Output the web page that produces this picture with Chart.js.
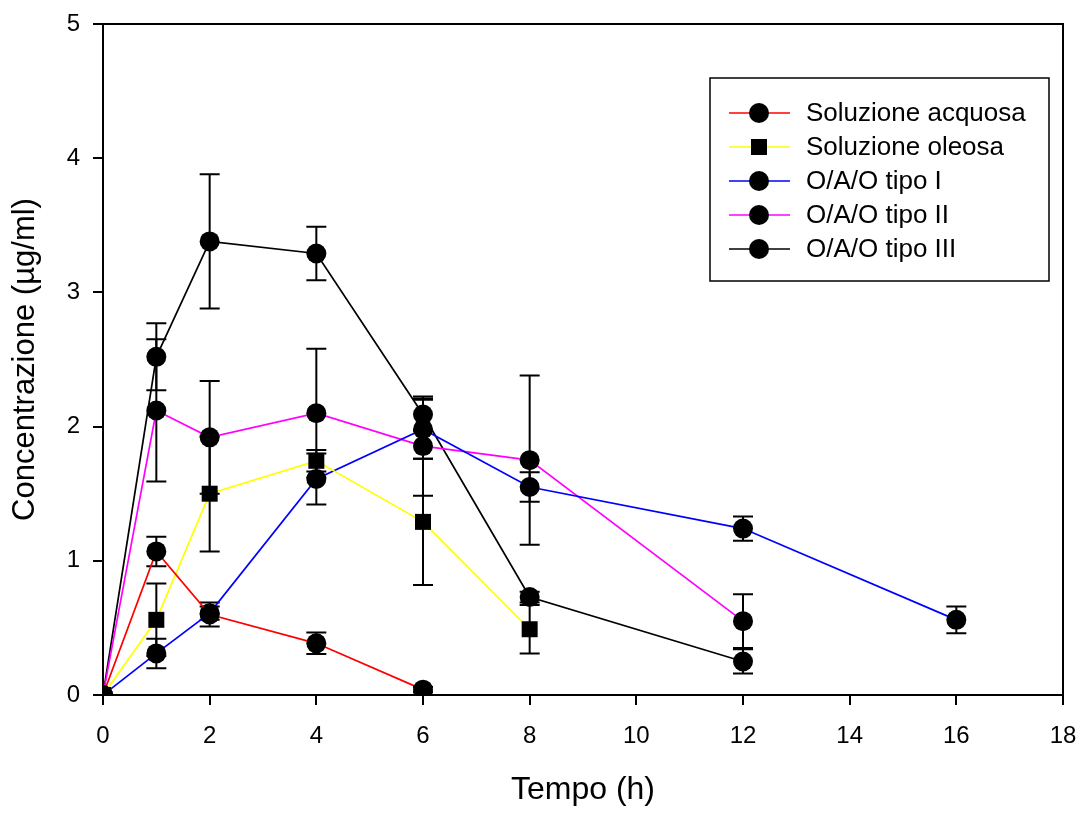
<!DOCTYPE html>
<html>
<head>
<meta charset="utf-8">
<script src="https://cdn.jsdelivr.net/npm/chart.js@4.4.0/dist/chart.umd.min.js"></script>
<style>
  html, body { margin: 0; padding: 0; background: #fff; }
  #wrap { width: 1086px; height: 813px; }
</style>
</head>
<body>
<div id="wrap"><canvas id="chart" width="1086" height="813"></canvas></div>
<script>
(function() {
  "use strict";

  // ── Data ──
  const timeAcquosa = [0, 1, 2, 4, 6];
  const acquosa     = [0, 1.07, 0.60, 0.385, 0.04];
  const acquosaErr  = [0, 0.11, 0.09, 0.08, 0.02];

  const timeOleosa = [0, 1, 2, 4, 6, 8];
  const oleosa     = [0, 0.56, 1.50, 1.745, 1.29, 0.49];
  const oleosaErr  = [0, 0.27, 0.43, 0.08, 0.47, 0.18];

  const timeTipoI = [0, 1, 2, 4, 6, 8, 12, 16];
  const tipoI     = [0, 0.31, 0.61, 1.61, 1.98, 1.55, 1.24, 0.56];
  const tipoIErr  = [0, 0.11, 0.05, 0.19, 0.22, 0.11, 0.09, 0.10];

  const timeTipoII = [0, 1, 2, 4, 6, 8, 12];
  const tipoII     = [0, 2.12, 1.92, 2.10, 1.855, 1.75, 0.55];
  const tipoIIErr  = [0, 0.53, 0.42, 0.48, 0.37, 0.63, 0.20];

  const timeTipoIII = [0, 1, 2, 4, 6, 8, 12];
  const tipoIII     = [0, 2.52, 3.38, 3.29, 2.09, 0.73, 0.25];
  const tipoIIIErr  = [0, 0.25, 0.50, 0.20, 0.12, 0.04, 0.09];

  const seriesLabels = ['Soluzione acquosa', 'Soluzione oleosa', 'O/A/O tipo I', 'O/A/O tipo II', 'O/A/O tipo III'];
  const seriesColors = ['#ff0000', '#ffff00', '#0000ff', '#ff00ff', '#000000'];
  const seriesMarkers = ['circle', 'rect', 'circle', 'circle', 'circle'];

  const xTitle = 'Tempo (h)';
  const yTitle = 'Concentrazione (µg/ml)';

  const FONT = '"Liberation Sans", Arial, Helvetica, sans-serif';

  const toPoints = (xs, ys) => xs.map((x, i) => ({ x: x, y: ys[i] }));

  const raw = [
    { t: timeAcquosa, v: acquosa, e: acquosaErr },
    { t: timeOleosa, v: oleosa, e: oleosaErr },
    { t: timeTipoI, v: tipoI, e: tipoIErr },
    { t: timeTipoII, v: tipoII, e: tipoIIErr },
    { t: timeTipoIII, v: tipoIII, e: tipoIIIErr },
  ];

  const datasets = raw.map((s, i) => ({
    label: seriesLabels[i],
    data: toPoints(s.t, s.v),
    errors: s.e,
    showLine: true,
    borderColor: seriesColors[i],
    borderWidth: 1.7,
    pointStyle: seriesMarkers[i],
    pointRadius: seriesMarkers[i] === 'rect' ? 11.3 : 10,
    pointBackgroundColor: '#000',
    pointBorderColor: '#000',
    pointBorderWidth: 0,
    order: 0,
  }));

  // ── Error bars, through the scales ──
  const errorBars = {
    id: 'errorBars',
    beforeDatasetsDraw(chart) {
      const { ctx, scales: { x, y } } = chart;
      ctx.save();
      ctx.strokeStyle = '#000';
      ctx.lineWidth = 2;
      chart.data.datasets.forEach(ds => {
        ds.data.forEach((p, i) => {
          const e = ds.errors[i];
          if (!e) return;
          const px = x.getPixelForValue(p.x);
          const top = y.getPixelForValue(p.y + e);
          const bot = y.getPixelForValue(p.y - e);
          ctx.beginPath();
          ctx.moveTo(px, top); ctx.lineTo(px, bot);
          ctx.moveTo(px - 10, top); ctx.lineTo(px + 10, top);
          ctx.moveTo(px - 10, bot); ctx.lineTo(px + 10, bot);
          ctx.stroke();
        });
      });
      ctx.restore();
    }
  };

  // ── Frame (top/right spines) + legend box ──
  const frameAndLegend = {
    id: 'frameAndLegend',
    afterDraw(chart) {
      const { ctx, chartArea: a } = chart;
      ctx.save();
      ctx.strokeStyle = '#000';
      ctx.lineWidth = 2;
      ctx.beginPath();
      ctx.moveTo(a.left - 10, a.top); ctx.lineTo(a.right, a.top); ctx.lineTo(a.right, a.bottom);
      ctx.stroke();

      // legend
      const bx = 710, by = 78, bw = 339, bh = 203;
      ctx.lineWidth = 1.5;
      ctx.fillStyle = '#fff';
      ctx.fillRect(bx, by, bw, bh);
      ctx.strokeRect(bx, by, bw, bh);
      ctx.font = '26px ' + FONT;
      ctx.textBaseline = 'middle';
      ctx.textAlign = 'left';
      seriesLabels.forEach((lab, i) => {
        const cy = 113 + i * 34;
        ctx.strokeStyle = seriesColors[i];
        ctx.lineWidth = 1.7;
        ctx.beginPath();
        ctx.moveTo(729, cy); ctx.lineTo(790, cy);
        ctx.stroke();
        ctx.fillStyle = '#000';
        ctx.beginPath();
        if (seriesMarkers[i] === 'rect') {
          ctx.rect(759 - 8, cy - 8, 16, 16);
        } else {
          ctx.arc(759, cy, 10, 0, Math.PI * 2);
        }
        ctx.fill();
        ctx.fillText(lab, 806, cy + 1);
      });
      ctx.restore();
    }
  };

  const axisCommon = {
    grid: { drawOnChartArea: false, drawTicks: true, tickLength: 10, color: '#000', lineWidth: 2 },
    border: { display: true, color: '#000', width: 2 },
  };

  // fixed box sizes, no extra label overhang padding
  function fixScale(scale, w, h) {
    if (w) scale.width = w;
    if (h) scale.height = h;
    scale.paddingLeft = 0; scale.paddingRight = 0;
    scale.paddingTop = 0; scale.paddingBottom = 0;
  }

  new Chart(document.getElementById('chart'), {
    type: 'scatter',
    data: { datasets },
    options: {
      responsive: false,
      animation: false,
      events: [],
      layout: { padding: { top: 24, right: 23, left: 0, bottom: 0 } },
      plugins: { legend: { display: false }, tooltip: { enabled: false } },
      scales: {
        x: {
          ...axisCommon,
          type: 'linear',
          min: 0, max: 18,
          ticks: { stepSize: 2, color: '#000', font: { family: FONT, size: 24 }, padding: 17 },
          title: { display: true, text: xTitle, color: '#000', font: { family: FONT, size: 32 }, padding: { bottom: 4 } },
          afterFit(scale) { fixScale(scale, 0, 118); },
        },
        y: {
          ...axisCommon,
          type: 'linear',
          min: 0, max: 5,
          ticks: { stepSize: 1, color: '#000', font: { family: FONT, size: 24 }, padding: 13 },
          title: { display: true, text: yTitle, color: '#000', font: { family: FONT, size: 31 }, padding: { top: 7 } },
          afterFit(scale) { fixScale(scale, 103, 0); },
        },
      },
    },
    plugins: [errorBars, frameAndLegend],
  });
})();
</script>
</body>
</html>
